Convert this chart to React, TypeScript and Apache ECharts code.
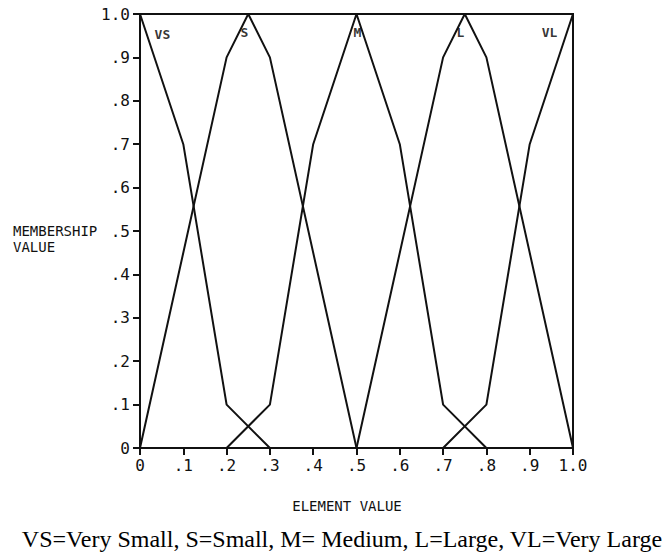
import React, { useEffect, useRef } from "react";
import * as echarts from "echarts";

const VS = [[0, 1.0], [0.1, 0.7], [0.2, 0.1], [0.3, 0]];
const S = [[0, 0], [0.2, 0.9], [0.25, 1.0], [0.3, 0.9], [0.5, 0]];
const M = [[0.2, 0], [0.3, 0.1], [0.4, 0.7], [0.5, 1.0], [0.6, 0.7], [0.7, 0.1], [0.8, 0]];
const L = [[0.5, 0], [0.7, 0.9], [0.75, 1.0], [0.8, 0.9], [1.0, 0]];
const VL = [[0.7, 0], [0.8, 0.1], [0.9, 0.7], [1.0, 1.0]];

const curveNames = ["VS", "S", "M", "L", "VL"];
const curveLabelPos = [[0.053, 0.952], [0.242, 0.956], [0.503, 0.956], [0.741, 0.956], [0.947, 0.956]];

const xTitle = "ELEMENT VALUE";
const yTitleLines = ["MEMBERSHIP", "VALUE"];
const caption = "VS=Very Small, S=Small, M= Medium, L=Large, VL=Very Large";

const fmt = (v: number) => {
  const r = Math.round(v * 10) / 10;
  if (r === 0) return "0";
  if (r === 1) return "1.0";
  return "." + Math.round(r * 10);
};

const MONO = "DejaVu Sans Mono";

export default function App() {
  const ref = useRef<HTMLDivElement>(null);
  useEffect(() => {
    if (!ref.current) return;
    const chart = echarts.init(ref.current, null, { renderer: "svg" });
    const lineSeries = [VS, S, M, L, VL].map((d, i) => ({
      name: curveNames[i],
      type: "line",
      data: d,
      symbol: "none",
      lineStyle: { color: "#111", width: 2 },
      z: 3,
    }));
    chart.setOption({
      animation: false,
      backgroundColor: "#fff",
      grid: {
        left: 140,
        right: 93,
        top: 14,
        bottom: 106,
        show: true,
        borderColor: "#111",
        borderWidth: 2,
        backgroundColor: "transparent",
      },
      xAxis: {
        type: "value",
        min: 0,
        max: 1,
        interval: 0.1,
        axisLine: { show: true, lineStyle: { color: "#111", width: 2 } },
        axisTick: { show: true, inside: false, length: 7, lineStyle: { color: "#111", width: 2 } },
        splitLine: { show: false },
        axisLabel: {
          formatter: fmt,
          color: "#111",
          fontFamily: MONO,
          fontSize: 16,
          margin: 9,
        },
      },
      yAxis: {
        type: "value",
        min: 0,
        max: 1,
        interval: 0.1,
        axisLine: { show: true, lineStyle: { color: "#111", width: 2 } },
        axisTick: { show: true, inside: false, length: 7, lineStyle: { color: "#111", width: 2 } },
        splitLine: { show: false },
        axisLabel: {
          formatter: fmt,
          color: "#111",
          fontFamily: MONO,
          fontSize: 16,
          margin: 10,
        },
      },
      series: [
        ...lineSeries,
        {
          type: "scatter",
          data: curveLabelPos.map((p, i) => ({ value: p, name: curveNames[i] })),
          symbolSize: 1,
          itemStyle: { color: "rgba(0,0,0,0)" },
          label: {
            show: true,
            position: [0, 0],
            align: "center",
            verticalAlign: "middle",
            formatter: (p: any) => p.name,
            color: "#000",
            textBorderWidth: 0,
            fontFamily: MONO,
            fontWeight: "bold",
            fontSize: 13,
          },
          z: 4,
        },
      ],
      graphic: [
        ...yTitleLines.map((t, i) => ({
          type: "text",
          x: 13,
          y: 231 + i * 16,
          style: {
            text: t,
            fill: "#111",
            font: `14px "${MONO}"`,
            verticalAlign: "middle",
          },
        })),
        {
          type: "text",
          x: 347,
          y: 506,
          style: {
            text: xTitle,
            fill: "#111",
            font: `14px "${MONO}"`,
            align: "center",
            verticalAlign: "middle",
          },
        },
        {
          type: "text",
          x: 342,
          y: 539,
          style: {
            text: caption,
            fill: "#000",
            font: `24px "Liberation Serif"`,
            align: "center",
            verticalAlign: "middle",
          },
        },
      ],
    });
    return () => chart.dispose();
  }, []);
  return (
    <div
      ref={ref}
      style={{ position: "fixed", left: 0, top: 0, width: 666, height: 554, background: "#fff" }}
    />
  );
}
